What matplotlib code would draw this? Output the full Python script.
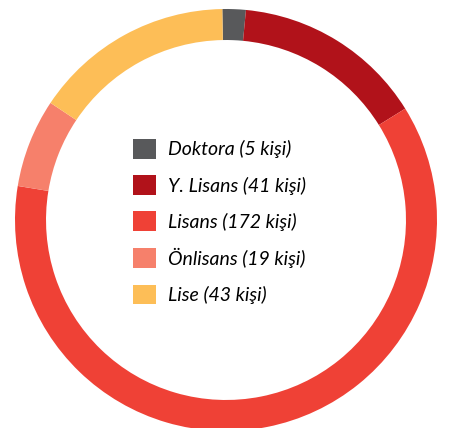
import matplotlib
matplotlib.use("Agg")
import matplotlib.pyplot as plt

# education levels and head counts
labels = ["Doktora", "Y. Lisans", "Lisans", "Önlisans", "Lise"]
counts = [5, 41, 172, 19, 43]
colors = ["#58595b", "#b1121a", "#ef4136", "#f6806b", "#fdbe57"]

plt.rcParams['font.family'] = ['Lato', 'DejaVu Sans']

fig = plt.figure(figsize=(4.55, 4.28), dpi=100)
# square axes, ring centre at about (226, 220) px, outer radius 211 px
ax = fig.add_axes([15 / 455, -3 / 428, 422 / 455, 422 / 428])
wedges, _ = ax.pie(counts, colors=colors, startangle=91, counterclock=False,
                   radius=1.0, wedgeprops=dict(width=0.147, linewidth=0))
ax.set_xlim(-1, 1)
ax.set_ylim(-1, 1)
ax.set_aspect('equal')
ax.axis('off')

legend_labels = [f"{l} ({c} kişi)" for l, c in zip(labels, counts)]
fig.legend(wedges, legend_labels, loc='upper left',
           bbox_to_anchor=(133 / 455, 1 - 139 / 428),
           frameon=False, borderpad=0, borderaxespad=0,
           handlelength=1.18, handleheight=1.18, handletextpad=0.62,
           labelspacing=0.85,
           prop=dict(style='italic', size=14))

fig.savefig("out.png", dpi=100)
